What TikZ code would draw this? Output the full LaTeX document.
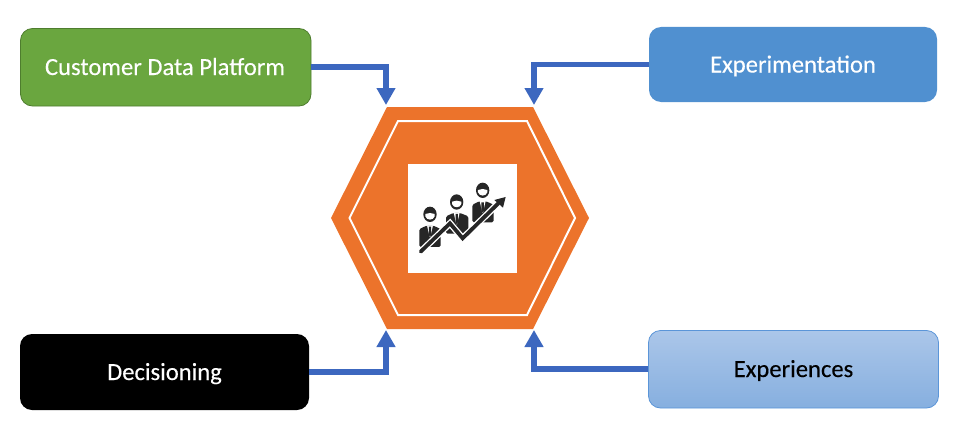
\documentclass[tikz,border=0pt]{standalone}
\usepackage{fontspec}
\setmainfont{Carlito}
\usetikzlibrary{arrows.meta}
\definecolor{hexorange}{HTML}{EC732B}
\definecolor{linkblue}{HTML}{3C67BF}
\definecolor{boxgreen}{HTML}{6AA63F}
\definecolor{boxgreenedge}{HTML}{4E7D2E}
\definecolor{boxblue}{HTML}{5090D0}
\definecolor{lighttop}{HTML}{ABC6E9}
\definecolor{lightbot}{HTML}{86AFDF}
\definecolor{lightedge}{HTML}{5B95D8}
\definecolor{icondark}{HTML}{262626}
\newfontfamily\cardfont[FakeBold=0.25]{Carlito}
\tikzset{
  cardtext/.style={font=\cardfont\fontsize{24.6}{28}\selectfont,inner sep=0pt,text height=18pt,text depth=2pt},
  link/.style={draw=linkblue,line width=5.8pt,-{Triangle[width=18pt,length=17pt]},rounded corners=0pt},
}
\begin{document}
\begin{tikzpicture}[x=1pt,y=-1pt]
\useasboundingbox (0,0) rectangle (955,428);
% hexagon
\fill[hexorange] (331,218)--(387,107)--(533,107)--(589,218)--(533,329)--(387,329)--cycle;
\draw[white,line width=2pt,line join=miter] (349.5,218)--(398,121)--(527,121)--(575,218)--(527,315)--(398,315)--cycle;
\node[fill=white,minimum width=109pt,minimum height=109pt,inner sep=0pt] (icon) at (462.5,218.5) {};
% icon drawn in 3x zoom coordinates
\begin{scope}[shift={(400,155)},x=0.3333pt,y=-0.3333pt]
  \foreach \hx/\hy/\tl/\tr/\ty/\tb in {90/180/58/122/212/276, 170/143/138/205/174/236, 248/108/217/281/139/202}{
    \fill[icondark] (\hx,\hy-2) circle[x radius=20,y radius=23];
    \fill[white] (\hx-14,\hy-3) .. controls (\hx-5,\hy-7) and (\hx+5,\hy-7) .. (\hx+14,\hy-3) -- (\hx+14,\hy+4) .. controls (\hx+10,\hy+17) and (\hx-10,\hy+17) .. (\hx-14,\hy+4) -- cycle;
    \fill[icondark,rounded corners=1.5pt] (\tl,\tb) -- (\tl,\ty+10) -- (\hx-10,\ty) -- (\hx+10,\ty) -- (\tr,\ty+10) -- (\tr,\tb) -- cycle;
    \fill[white] (\hx-9,\ty-1) -- (\hx+9,\ty-1) -- (\hx+1,\ty+34) -- (\hx-1,\ty+34) -- cycle;
    \fill[icondark] (\hx-3.5,\ty+3) -- (\hx+3.5,\ty+3) -- (\hx+3.5,\ty+28) -- (\hx,\ty+34) -- (\hx-3.5,\ty+28) -- cycle;
  }
  \draw[white,line width=6.5pt,line join=miter] (62,290)--(150,205)--(188,250)--(295,145);
  \draw[icondark,line width=3.8pt,line join=miter,line cap=round] (62,290)--(150,205)--(188,250)--(295,145);
  \fill[icondark] (317,126)--(309,158)--(283,135)--cycle;
\end{scope}
% boxes
\path[fill=boxgreen,draw=boxgreenedge,line width=0.8pt,rounded corners=12pt] (20.5,28.5) rectangle (311,106);
\node[cardtext,text=white,minimum width=291pt] (cdp) at (165,67) {Customer Data Platform};
\path[fill=boxblue,rounded corners=12pt] (649,27) rectangle (937,102);
\node[cardtext,text=white,minimum width=288pt] (exp) at (793,64.5) {Experimentation};
\path[fill=black,rounded corners=12pt] (20,334) rectangle (309,410);
\node[cardtext,text=white,minimum width=289pt] (dec) at (164.5,372) {Decisioning};
\path[top color=lighttop,bottom color=lightbot,draw=lightedge,line width=0.8pt,rounded corners=12pt] (648.5,330.5) rectangle (938.5,408);
\node[cardtext,text=black,minimum width=290pt] (xpr) at (793.5,369) {Experiences};
% connector ends
\coordinate (hexTL) at (386,105);
\coordinate (hexTR) at (534,105);
\coordinate (hexBL) at (386,330);
\coordinate (hexBR) at (534,330);
\draw[link] (cdp.east) -| (hexTL);
\draw[link] (exp.west) -| (hexTR);
\draw[link] (dec.east) -| (hexBL);
\draw[link] (xpr.west) -| (hexBR);
\end{tikzpicture}
\end{document}
